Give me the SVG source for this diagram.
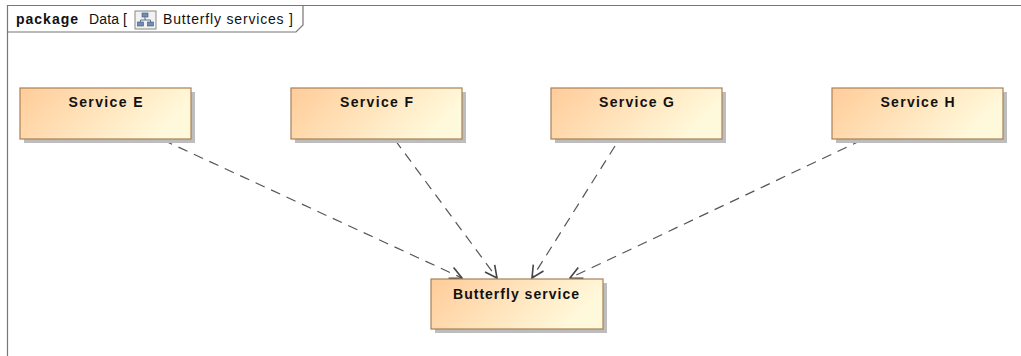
<svg xmlns="http://www.w3.org/2000/svg" width="1021" height="356" viewBox="0 0 1021 356">
<defs>
<linearGradient id="g" x1="0" y1="0" x2="1" y2="0.3">
<stop offset="0" stop-color="#FFCC99"/>
<stop offset="1" stop-color="#FFF9DB"/>
</linearGradient>
<marker id="arr" viewBox="0 0 14 14" refX="13" refY="7" markerWidth="14" markerHeight="14" markerUnits="userSpaceOnUse" orient="auto">
<path d="M1,1 L13,7 L1,13" fill="none" stroke="#444" stroke-width="1.6"/>
</marker>
</defs>
<style>
.shadow{fill:#bdbdbd}
.box{fill:url(#g);stroke:#A88058;stroke-width:1.2}
.lbl{font-family:"Liberation Sans",Arial,sans-serif;font-weight:bold;font-size:14px;fill:#111;text-anchor:middle}
.dep{fill:none;stroke:#555;stroke-width:1.2;stroke-dasharray:10,7}
.frm{fill:none;stroke:#777;stroke-width:1.2}
.tt{font-family:"Liberation Sans",Arial,sans-serif;font-size:14px;fill:#111}
</style>
<rect width="1021" height="356" fill="#fff"/>
<g id="frame">
<path class="frm" d="M7.5,360 L7.5,5.5 L1030,5.5"/>
<path class="frm" d="M7.5,32 L296,32 L303,25 L303,5.5"/>
<text class="tt" x="16" y="24" font-weight="bold" textLength="62" lengthAdjust="spacing">package</text>
<text class="tt" x="89" y="24" textLength="38" lengthAdjust="spacing">Data [</text>
<g id="icon">
<rect x="135" y="11" width="21" height="18" fill="#f2f2f2" stroke="#888" stroke-width="1"/>
<rect x="142" y="13" width="6" height="4" fill="#6a8fb8" stroke="#456" stroke-width="0.6"/>
<rect x="137.5" y="22" width="6" height="4" fill="#6a8fb8" stroke="#456" stroke-width="0.6"/>
<rect x="147.5" y="22" width="6" height="4" fill="#6a8fb8" stroke="#456" stroke-width="0.6"/>
<path d="M145,17 V20 M140.5,20 H150.5 M140.5,20 V22 M150.5,20 V22" stroke="#456" stroke-width="0.8" fill="none"/>
</g>
<text class="tt" x="163" y="24" textLength="130" lengthAdjust="spacing">Butterfly services  ]</text>
</g>
<g id="connectors">
<line class="dep" x1="163" y1="140" x2="462" y2="278" marker-end="url(#arr)"/>
<line class="dep" x1="395" y1="140" x2="497" y2="278" marker-end="url(#arr)"/>
<line class="dep" x1="615" y1="146" x2="532" y2="278" marker-end="url(#arr)"/>
<line class="dep" x1="862" y1="140" x2="570" y2="278" marker-end="url(#arr)"/>
</g>
<g id="serviceE">
<rect class="shadow" x="24" y="92" width="171" height="51"/>
<rect class="box" x="20" y="88" width="171" height="51"/>
<text class="lbl" x="105.5" y="107" textLength="74" lengthAdjust="spacing">Service E</text>
</g>
<g id="serviceF">
<rect class="shadow" x="295" y="92" width="171" height="51"/>
<rect class="box" x="291" y="88" width="171" height="51"/>
<text class="lbl" x="376.5" y="107" textLength="73" lengthAdjust="spacing">Service F</text>
</g>
<g id="serviceG">
<rect class="shadow" x="555" y="92" width="171" height="51"/>
<rect class="box" x="551" y="88" width="171" height="51"/>
<text class="lbl" x="636.5" y="107" textLength="75" lengthAdjust="spacing">Service G</text>
</g>
<g id="serviceH">
<rect class="shadow" x="836" y="92" width="171" height="51"/>
<rect class="box" x="832" y="88" width="171" height="51"/>
<text class="lbl" x="917.5" y="107" textLength="74" lengthAdjust="spacing">Service H</text>
</g>
<g id="butterfly">
<rect class="shadow" x="435" y="283" width="172" height="50"/>
<rect class="box" x="431" y="279" width="172" height="50"/>
<text class="lbl" x="516" y="299" textLength="126" lengthAdjust="spacing">Butterfly service</text>
</g>
</svg>
